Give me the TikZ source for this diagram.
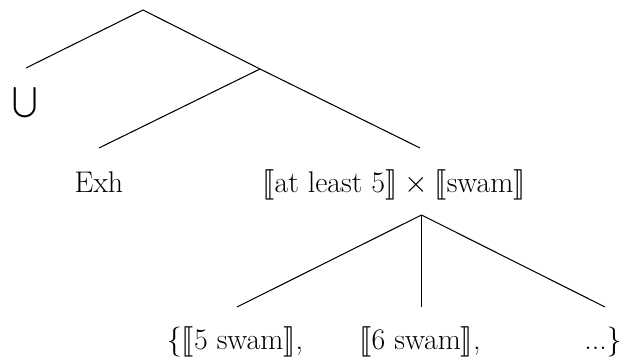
\documentclass[tikz,border=0pt]{standalone}
\usepackage{exscale}
\usepackage{stmaryrd}
\begin{document}
\begin{tikzpicture}[line width=0.6pt,word/.style={anchor=base,inner sep=0pt,font=\fontsize{17}{20}\selectfont}]
\useasboundingbox (0,0) rectangle (12.46,7.2);
\coordinate (top) at (2.86,7.0);
\coordinate (cupend) at (0.52,5.84);
\coordinate (mid) at (5.2,5.82);
\coordinate (exhend) at (1.98,4.24);
\coordinate (prodend) at (8.4,4.24);
\coordinate (prodtop) at (8.43,2.9);
\coordinate (fiveend) at (4.74,1.06);
\coordinate (sixend) at (8.43,1.06);
\coordinate (dotsend) at (12.1,1.06);
\draw (0.5,5.14) node[word,anchor=center] (cup) {$\bigcup$};
\draw (1.98,3.34) node[word] (exh) {Exh};
\draw (7.88,3.34) node[word] (prod) {$\llbracket$at least 5$\rrbracket \times \llbracket$swam$\rrbracket$};
\draw (4.7,0.2) node[word] (five) {\{$\llbracket$5 swam$\rrbracket$,};
\draw (8.4,0.2) node[word] (six) {$\llbracket$6 swam$\rrbracket$,};
\draw (12.06,0.2) node[word] (etc) {...\}};
\draw (cupend) -- (top) -- (mid);
\draw (mid) -- (prodend);
\draw (mid) -- (exhend);
\draw (prodtop) -- (fiveend);
\draw (prodtop) -- (sixend);
\draw (prodtop) -- (dotsend);
\end{tikzpicture}
\end{document}
